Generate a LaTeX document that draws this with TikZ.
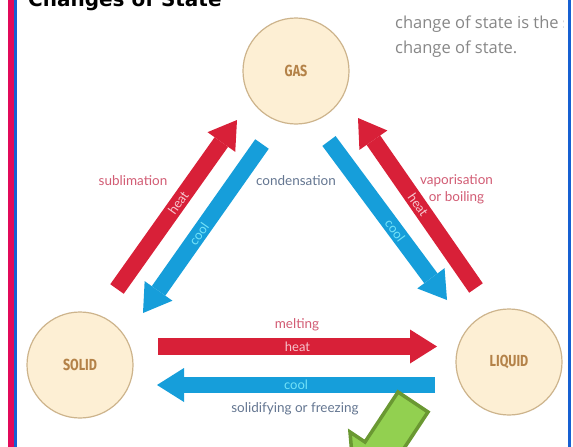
\documentclass[tikz,border=0pt]{standalone}
\usepackage{fontspec}
\usepackage{graphicx}
\setmainfont{Lato}
\newfontfamily\topfont{Open Sans}
\newfontfamily\titlefont{DejaVu Sans}
\newfontfamily\statefont{Fira Sans}
\usetikzlibrary{arrows.meta,calc}
\definecolor{hred}{RGB}{216,32,56}
\definecolor{cblue}{RGB}{22,158,218}
\definecolor{circfill}{RGB}{253,239,212}
\definecolor{circline}{RGB}{205,180,140}
\definecolor{statetxt}{RGB}{180,130,72}
\definecolor{redlbl}{RGB}{210,92,116}
\definecolor{bluelbl}{RGB}{100,118,145}
\definecolor{heattxt}{RGB}{246,196,204}
\definecolor{cooltxt}{RGB}{115,226,248}
\definecolor{limefill}{RGB}{146,208,80}
\definecolor{limeline}{RGB}{106,152,50}
\definecolor{toptxt}{RGB}{135,135,135}
\definecolor{barred}{RGB}{226,10,90}
\definecolor{barblue}{RGB}{22,96,210}
\newcommand\condtxt[1]{\scalebox{0.78}[1]{#1}}
\begin{document}
\begin{tikzpicture}[x=1pt,y=-1pt,
  statenode/.style={circle, fill=circfill, draw=circline, line width=1.2pt,
    minimum size=106pt, inner sep=0pt, text=statetxt,
    font=\statefont\bfseries\fontsize{16}{16}\selectfont},
  heatarrow/.style={draw=hred, line width=16.5pt,
    -{Triangle[width=34pt,length=27pt,line width=0pt]}},
  coolarrow/.style={draw=cblue, line width=16.5pt,
    -{Triangle[width=34pt,length=27pt,line width=0pt]}},
  heatlbl/.style={sloped, text=heattxt, inner sep=0pt, font=\fontsize{13}{13}\selectfont},
  coollbl/.style={sloped, text=cooltxt, inner sep=0pt, font=\fontsize{13}{13}\selectfont},
  redtxt/.style={text=redlbl, inner sep=0pt, font=\fontsize{13.5}{17}\selectfont},
  bluetxt/.style={text=bluelbl, inner sep=0pt, font=\fontsize{13.5}{17}\selectfont},
  limearrow/.style={fill=limefill, draw=limeline, line width=3.5pt, line join=miter}
]
\useasboundingbox (0,0) rectangle (573,447);
\fill[white] (0,0) rectangle (573,447);

% page borders
\fill[barred] (8,0) rectangle (13.5,447);
\fill[barblue] (13.5,0) rectangle (17,447);
\fill[barblue] (568,0) rectangle (571,447);

% title (cut off at top)
\node[anchor=base west, inner sep=0pt, font=\titlefont\bfseries\fontsize{20}{20}\selectfont] (title) at (28,6) {Changes of State};

% top right text
\begin{scope}
\clip (380,0) rectangle (563,80);
\node[anchor=base west, inner sep=0pt, text=toptxt, font=\topfont\fontsize{16.5}{16.5}\selectfont] (top1) at (395,28) {change of state is the s};
\end{scope}
\node[anchor=base west, inner sep=0pt, text=toptxt, font=\topfont\fontsize{16.5}{16.5}\selectfont] (top2) at (395,53) {change of state.};

% states
\node[statenode] (gas) at (296,71) {\condtxt{GAS}};
\node[statenode] (solid) at (80,365) {\condtxt{SOLID}};
\node[statenode] (liquid) at (509,362) {\condtxt{LIQUID}};

% arrow end points
\coordinate (subT) at (117,289);
\coordinate (subH) at (237,120);
\coordinate (conT) at (262,144);
\coordinate (conH) at (143,313);
\coordinate (gcT) at (329,141);
\coordinate (gcH) at (447,300);
\coordinate (vapT) at (476,288);
\coordinate (vapH) at (358,118);
\coordinate (melT) at (158,346.5);
\coordinate (melH) at (437,346.5);
\coordinate (frT) at (435,385);
\coordinate (frH) at (157,385);

\draw[heatarrow] (subT) -- node[heatlbl, pos=0.51] (subheat) {heat} (subH);
\draw[coolarrow] (conT) -- node[coollbl, pos=0.53] (concool) {cool} (conH);
\draw[coolarrow] (gcT) -- node[coollbl, pos=0.56] (gccool) {cool} (gcH);
\draw[heatarrow] (vapT) -- node[heatlbl, pos=0.49] (vapheat) {heat} (vapH);
\draw[heatarrow] (melT) -- node[heatlbl, pos=0.5] (melheat) {heat} (melH);
\draw[coolarrow] (frT) -- node[coollbl, pos=0.5] (frcool) {cool} (frH);

% process labels
\node[redtxt] (sublbl) at (133,181) {sublimation};
\node[bluetxt] (conlbl) at (296,181) {condensation};
\node[redtxt, align=center] (vaplbl) at (456.5,189.5) {vaporisation\\or boiling};
\node[redtxt] (mellbl) at (297,325) {melting};
\node[bluetxt] (frlbl) at (295,409) {solidifying or freezing};

% green pointer arrow
\draw[limearrow] (398,392) -- (428,412) -- (395,462) -- (410,472) -- (355,490) -- (350,432) -- (365,442) -- cycle;
\end{tikzpicture}
\end{document}
